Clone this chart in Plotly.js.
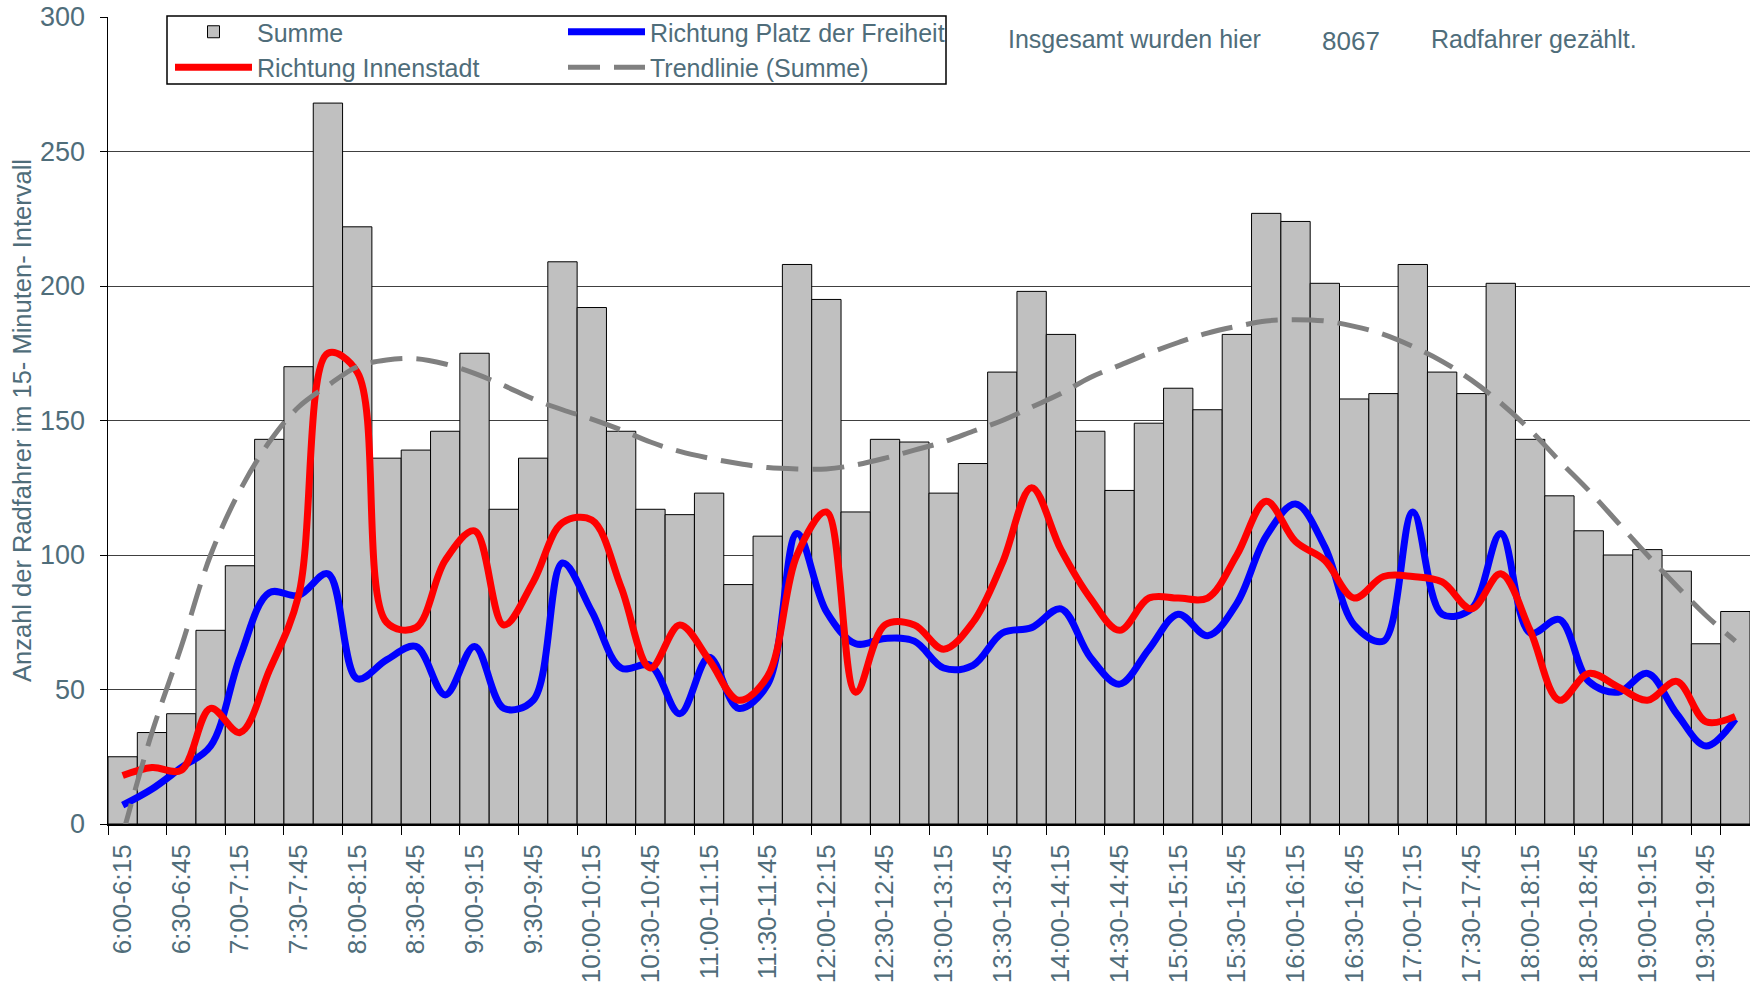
<!DOCTYPE html>
<html>
<head>
<meta charset="utf-8">
<script src="https://cdn.plot.ly/plotly-3.0.1.min.js"></script>
<style>html,body{margin:0;padding:0;background:#fff;}#chart{width:1750px;height:997px;}</style>
</head>
<body>
<div id="chart"></div>
<script>
// ---- data ----
const categories = [
  "6:00-6:15","6:15-6:30","6:30-6:45","6:45-7:00","7:00-7:15","7:15-7:30","7:30-7:45","7:45-8:00",
  "8:00-8:15","8:15-8:30","8:30-8:45","8:45-9:00","9:00-9:15","9:15-9:30","9:30-9:45","9:45-10:00",
  "10:00-10:15","10:15-10:30","10:30-10:45","10:45-11:00","11:00-11:15","11:15-11:30","11:30-11:45","11:45-12:00",
  "12:00-12:15","12:15-12:30","12:30-12:45","12:45-13:00","13:00-13:15","13:15-13:30","13:30-13:45","13:45-14:00",
  "14:00-14:15","14:15-14:30","14:30-14:45","14:45-15:00","15:00-15:15","15:15-15:30","15:30-15:45","15:45-16:00",
  "16:00-16:15","16:15-16:30","16:30-16:45","16:45-17:00","17:00-17:15","17:15-17:30","17:30-17:45","17:45-18:00",
  "18:00-18:15","18:15-18:30","18:30-18:45","18:45-19:00","19:00-19:15","19:15-19:30","19:30-19:45","19:45-20:00"
];
const summe = [25,34,41,72,96,143,170,268,222,136, 139,146,175,117,136,209,192,146,117,115,
  123,89,107,208,195,116,143,142,123,134, 168,198,182,146,124,149,162,154,182,227,
  224,201,158,160,208,168,160,201,143,122, 109,100,102,94,67,79];
const innenstadt = [18,21,20,43,34,57,85,175,168,75, 73,98,109,74,90,112,113,88,58,74,
  61,46,55,100,116,49,74,74,65,75, 97,125,102,84,72,84,84,84,100,120,
  105,98,84,92,92,90,80,93,72,46, 56,51,46,53,38,40];
const platzDerFreiheit = [7,13,21,29,62,86,85,93,54,61, 66,48,66,43,46,97,79,58,59,41,
  62,43,52,108,79,67,69,68,58,59, 71,73,80,62,52,65,78,70,82,107,
  119,103,74,68,116,78,80,108,71,76, 53,49,56,41,29,39];
const trendSumme = [-4,34,66,100,124,142,155,163,170,172.5, 173,171,167.5,163,158,154,150.5,146.5,142,138.5,
  136,134,132.5,132,132,133.5,136,139,142,146, 150,155,160,166,170.5,175,179,182.5,185,187,
  187.5,187,185,182,177.5,172,165,156.5,146.5,135, 124,112,100,88.5,77.5,68];
const yTicks = [0,50,100,150,200,250,300];
const totalCount = 8067;
const tickLabels = categories.filter((c, i) => i % 2 === 0);

// ---- styling ----
const FONT = "Liberation Sans, Arial, sans-serif";
const TXT = "#4f6d7a";

const traces = [
  {type:"bar", name:"Summe", x:categories, y:summe,
   marker:{color:"#C0C0C0", line:{color:"#000000", width:1}}, legend:"legend"},
  {type:"scatter", mode:"lines", name:"Richtung Platz der Freiheit", x:categories, y:platzDerFreiheit,
   line:{color:"#0000FF", width:7, shape:"spline", smoothing:1}, legend:"legend2"},
  {type:"scatter", mode:"lines", name:"Richtung Innenstadt", x:categories, y:innenstadt,
   line:{color:"#FF0000", width:7, shape:"spline", smoothing:1}, legend:"legend"},
  {type:"scatter", mode:"lines", name:"Trendlinie (Summe)", x:categories, y:trendSumme,
   line:{color:"#808080", width:5, shape:"spline", smoothing:1, dash:"32px,14px"}, legend:"legend2"}
];

const px = v => (v - 108) / 1642;
const py = v => (824 - v) / 807;

const layout = {
  width:1750, height:997,
  margin:{l:108, r:0, t:17, b:173, pad:0},
  paper_bgcolor:"#ffffff", plot_bgcolor:"#ffffff",
  bargap:0,
  showlegend:true,
  font:{family:FONT, color:TXT, size:25},
  xaxis:{
    type:"category", categoryarray:categories, range:[-0.5, 55.5],
    tickmode:"array", tickvals:tickLabels, ticktext:tickLabels,
    tickson:"boundaries", ticks:"outside", ticklen:9, tickwidth:1, tickcolor:"#000",
    tickangle:-90, tickfont:{family:FONT, size:26, color:TXT}, ticklabelstandoff:8,
    showline:true, linecolor:"#000", linewidth:2, showgrid:false, zeroline:false, fixedrange:true
  },
  yaxis:{
    range:[0,300], tickmode:"array", tickvals:yTicks, ticktext:yTicks.map(String),
    ticks:"outside", ticklen:7, tickwidth:1, tickcolor:"#000",
    tickfont:{family:FONT, size:27, color:TXT}, ticklabelstandoff:9,
    showline:true, linecolor:"#000", linewidth:1.5,
    showgrid:true, gridcolor:"#404040", gridwidth:1, zeroline:false,
    title:{text:"Anzahl der Radfahrer im 15- Minuten- Intervall", font:{family:FONT, size:25.5, color:TXT}, standoff:1},
    automargin:false, fixedrange:true
  },
  legend:{x:px(170), y:py(9), xanchor:"left", yanchor:"top", bgcolor:"rgba(0,0,0,0)", borderwidth:0,
    font:{family:FONT, size:25, color:TXT}, itemwidth:77, traceorder:"normal", itemclick:false},
  legend2:{x:px(563), y:py(9), xanchor:"left", yanchor:"top", bgcolor:"rgba(0,0,0,0)", borderwidth:0,
    font:{family:FONT, size:25, color:TXT}, itemwidth:77, traceorder:"normal", itemclick:false},
  shapes:[
    {type:"rect", xref:"paper", yref:"paper", x0:px(167), x1:px(946), y0:py(84), y1:py(16),
     line:{color:"#000", width:1.5}, fillcolor:"#ffffff", layer:"above"}
  ],
  annotations:[
    {xref:"paper", yref:"paper", x:px(1006), y:py(39), xanchor:"left", yanchor:"middle", showarrow:false,
     text:"Insgesamt wurden hier", font:{family:FONT, size:25, color:TXT}},
    {xref:"paper", yref:"paper", x:px(1320), y:py(41), xanchor:"left", yanchor:"middle", showarrow:false,
     text:String(totalCount), font:{family:FONT, size:26, color:TXT}},
    {xref:"paper", yref:"paper", x:px(1429), y:py(39), xanchor:"left", yanchor:"middle", showarrow:false,
     text:"Radfahrer gezählt.", font:{family:FONT, size:25, color:TXT}}
  ]
};

Plotly.newPlot("chart", traces, layout, {staticPlot:true, displayModeBar:false});
</script>
</body>
</html>
